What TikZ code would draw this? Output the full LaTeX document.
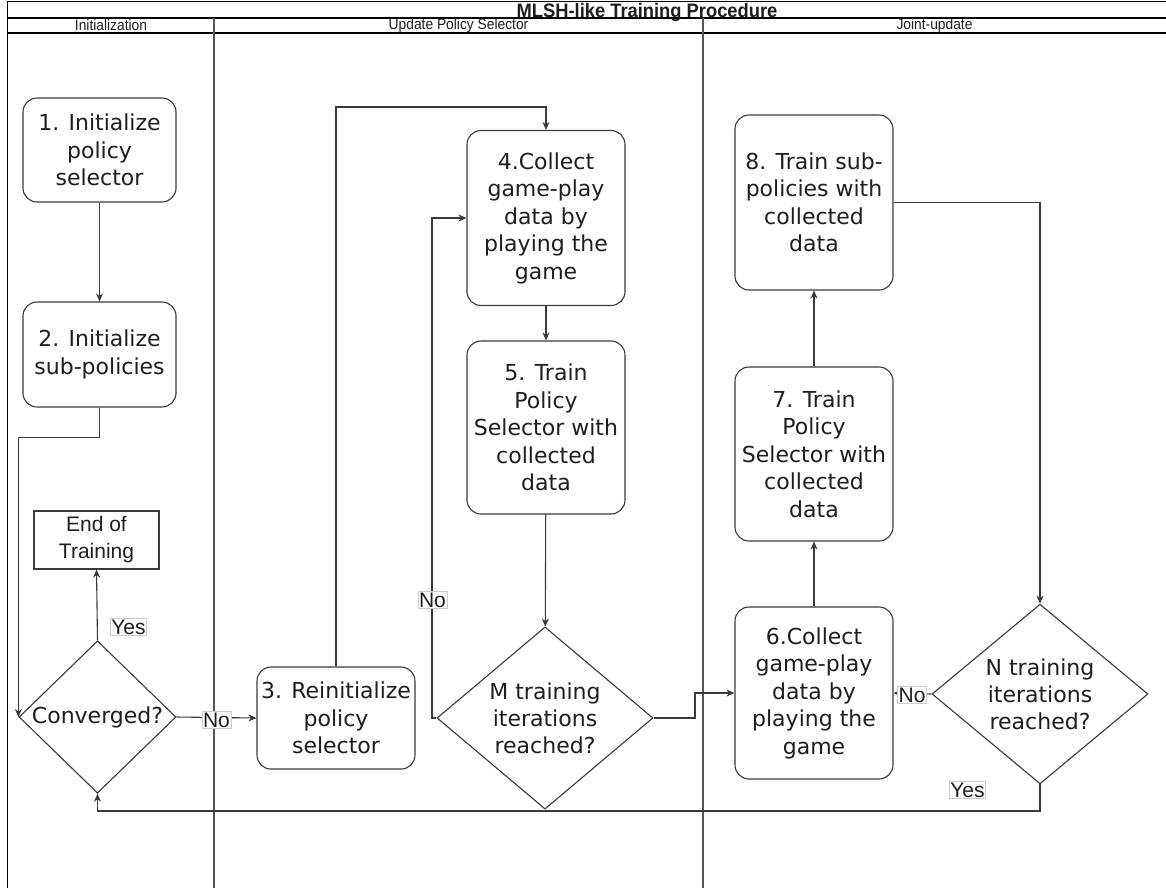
\documentclass[tikz,border=0pt]{standalone}
\usepackage{fontspec}
\setmainfont{DejaVu Sans}
\newfontfamily\arialfont{Liberation Sans}
\newfontfamily\headfont[FakeStretch=0.92]{Liberation Sans}
\newfontfamily\titlefont[FakeStretch=0.94]{Liberation Sans}
\usetikzlibrary{shapes.geometric,arrows.meta}
\definecolor{ink}{HTML}{1E1E1E}
\definecolor{edge}{HTML}{3A3A3A}
\definecolor{lanegray}{HTML}{555555}
\definecolor{lblgray}{HTML}{CCCCCC}
\begin{document}
\begin{tikzpicture}[x=1pt,y=-1pt,
  stepbox/.style={draw=edge, line width=1.1pt, rounded corners=14pt, fill=white,
    minimum width=158pt, align=center, inner sep=0pt, text=ink,
    font=\fontsize{22}{27.5}\selectfont},
  decision/.style={diamond, draw=edge, line width=1.1pt, fill=white, align=center,
    inner sep=0pt, text=ink, font=\fontsize{22}{27}\selectfont},
  endbox/.style={draw=edge, line width=1.1pt, fill=white, align=center, inner sep=0pt,
    minimum width=125pt, minimum height=58pt, text=ink,
    font=\arialfont\fontsize{21}{27}\selectfont},
  lbl/.style={draw=lblgray, line width=0.6pt, fill=white, inner sep=1pt, text=ink,
    font=\arialfont\fontsize{21}{24}\selectfont},
  arr/.style={draw=edge, line width=1.1pt, -{Stealth[length=8pt,width=7pt,inset=2.5pt]}},
  laneline/.style={draw=lanegray, line width=1.2pt},
  headtext/.style={font=\headfont\fontsize{15}{16}\selectfont, text=ink, inner sep=0pt}
]
\useasboundingbox (0,0) rectangle (1166,887);
\fill[white] (0,0) rectangle (1166,887);

% pool frame, title row and lane header row
\draw[black, line width=1.1pt] (7.5,890) -- (7.5,1.2) -- (1170,1.2);
\draw[black, line width=1.1pt] (7.5,18) -- (1170,18);
\draw[black, line width=1.1pt] (7.5,33) -- (1170,33);
\draw[laneline] (214,18) -- (214,890);
\draw[laneline] (703,18) -- (703,890);

\node[font=\titlefont\bfseries\fontsize{19.5}{21}\selectfont, text=ink, anchor=base, inner sep=0pt]
  (title) at (647,17.5) {MLSH-like Training Procedure};
\node[headtext] (h1) at (111,25.5) {Initialization};
\node[headtext] (h2) at (458.5,25.5) {Update Policy Selector};
\node[headtext] (h3) at (934.5,25.5) {Joint-update};

% initialization lane
\node[stepbox, minimum width=153pt, minimum height=104pt] (b1) at (99.5,150) {1. Initialize\\policy\\selector};
\node[stepbox, minimum width=153pt, minimum height=105pt] (b2) at (99.5,354.5) {2. Initialize\\sub-policies};
\node[endbox] (endt) at (96.5,540) {End of\\Training};
\node[decision, minimum width=157pt, minimum height=139pt] (conv) at (97.5,717) {Converged?};

% policy selector lane
\node[stepbox, minimum height=102pt] (b3) at (336,718) {3. Reinitialize\\policy\\selector};
\node[stepbox, minimum height=175pt] (b4) at (546,218) {4.Collect\\game-play\\data by\\playing the\\game};
\node[stepbox, minimum height=173pt] (b5) at (546,427.5) {5. Train\\Policy\\Selector with\\collected\\data};
\node[decision, minimum width=216pt, minimum height=174pt] (mdec) at (545,718) {M training\\iterations\\reached?};

% joint-update lane
\node[stepbox, minimum height=172pt] (b6) at (814,693) {6.Collect\\game-play\\data by\\playing the\\game};
\node[stepbox, minimum height=174pt] (b7) at (814,454) {7. Train\\Policy\\Selector with\\collected\\data};
\node[stepbox, minimum height=175pt] (b8) at (814,202.5) {8. Train sub-\\policies with\\collected\\data};
\node[decision, minimum width=216pt, minimum height=172pt] (ndec) at (1040,694) {N training\\iterations\\reached?};

% routing points
\coordinate (top4) at (546,107);
\coordinate (mleft) at (432,718);
\coordinate (mright) at (695,718);
\coordinate (nbot) at (1040,811);

% connectors
\draw[arr] (b1) -- (b2);
\draw[arr] (b2.south) -- ++(0,30) -| (conv.west);
\draw[arr] (conv.north) -- (endt.south);
\node[lbl] (yes1) at (128.5,627) {Yes};
\draw[arr] (conv.east) -- (b3.west);
\node[lbl] (no1) at (216.5,720) {No};
\draw[arr] (b3.north) |- (top4) -- (b4.north);
\draw[arr] (b4) -- (b5);
\draw[arr] (b5) -- (mdec);
\draw[arr] (mdec.west) -- (mleft) |- (b4.west);
\node[lbl] (no2) at (432.5,600) {No};
\draw[arr] (mdec.east) -- (mright) |- (b6.west);
\draw[arr] (b6) -- (b7);
\draw[arr] (b7) -- (b8);
\draw[arr] (b8.east) -| (ndec.north);
\draw[arr] (ndec.west) -- (b6.east);
\node[lbl] (no3) at (912,695) {No};
\draw[arr] (ndec.south) -- (nbot) -| (conv.south);
\node[lbl] (yes2) at (967.5,790) {Yes};
\end{tikzpicture}
\end{document}
